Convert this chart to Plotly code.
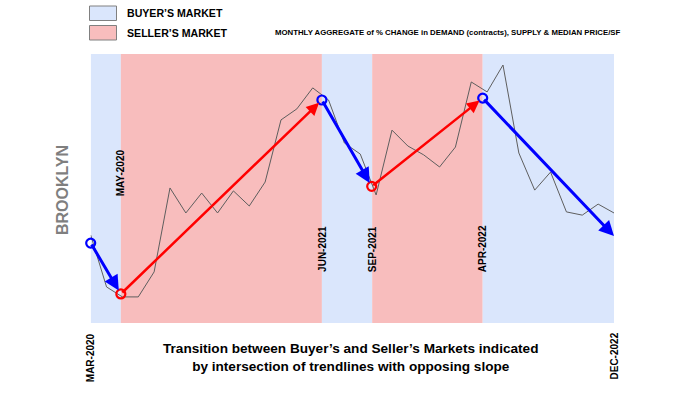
import plotly.graph_objects as go

W, H = 700, 394

# ---- data ----
months = ["MAR-2020", "APR-2020", "MAY-2020", "JUN-2020", "JUL-2020", "AUG-2020", "SEP-2020",
          "OCT-2020", "NOV-2020", "DEC-2020", "JAN-2021", "FEB-2021", "MAR-2021", "APR-2021",
          "MAY-2021", "JUN-2021", "JUL-2021", "AUG-2021", "SEP-2021", "OCT-2021", "NOV-2021",
          "DEC-2021", "JAN-2022", "FEB-2022", "MAR-2022", "APR-2022", "MAY-2022", "JUN-2022",
          "JUL-2022", "AUG-2022", "SEP-2022", "OCT-2022", "NOV-2022", "DEC-2022"]
aggregate = [32.7, 13.4, 9.7, 9.7, 19.0, 50.2, 40.9, 48.3, 40.9, 49.1, 43.5, 52.4, 75.5, 79.6,
             87.4, 82.9, 66.9, 62.8, 47.6, 71.7, 65.8, 62.5, 58.0, 65.4, 89.6, 85.9, 95.9, 63.2,
             49.4, 56.1, 41.3, 40.1, 44.2, 40.9]
# transitions (fractional month index) and trendline turning points
transition_x = [1.9, 14.58, 17.75, 24.72]
transition_labels = ["MAY-2020", "JUN-2021", "SEP-2021", "APR-2022"]
market = ["BUYER", "SELLER", "BUYER", "SELLER", "BUYER"]
trend_x = [0.0, 1.9, 14.58, 17.72, 24.72, 33.0]
trend_y = [29.7, 10.8, 82.9, 50.8, 83.6, 32.3]
end_labels = ["MAR-2020", "DEC-2022"]

# ---- style ----
BLUE_BG = "#dae6fc"
RED_BG = "#f8bdbd"
FONT = "Liberation Sans, Arial, sans-serif"

px_l, px_r, px_t, px_b = 90.7, 614.0, 54.0, 323.0
xdom = [px_l / W, px_r / W]
ydom = [(H - px_b) / H, (H - px_t) / H]
Y0, Y1 = 0.0, 100.0


def py(ypx):
    return (H - ypx) / H


fig = go.Figure()

# background bands
edges = [0.0] + transition_x + [len(months) - 1]
for i, m in enumerate(market):
    fig.add_shape(type="rect", xref="x", yref="y", x0=edges[i], x1=edges[i + 1], y0=Y0, y1=Y1,
                  fillcolor=BLUE_BG if m == "BUYER" else RED_BG, line_width=0, layer="below")

# aggregate line
fig.add_trace(go.Scatter(x=list(range(len(months))), y=aggregate, mode="lines",
                         line=dict(color="#5e5e5e", width=1), hoverinfo="skip", showlegend=False))

# trend arrows
for i in range(len(trend_x) - 1):
    col = "#0000ff" if market[i] == "BUYER" else "#ff0000"
    last = i == len(trend_x) - 2
    fig.add_annotation(x=trend_x[i + 1], y=trend_y[i + 1], ax=trend_x[i], ay=trend_y[i],
                       xref="x", yref="y", axref="x", ayref="y", text="", showarrow=True,
                       arrowhead=2, arrowsize=1.0, arrowwidth=3 if col == "#0000ff" else 2.5,
                       arrowcolor=col, standoff=0 if last else 4)

# circles at turning points
circ_cols = ["#0000ff", "#ff0000", "#0000ff", "#ff0000", "#0000ff"]
fig.add_trace(go.Scatter(x=trend_x[:5], y=trend_y[:5], mode="markers", cliponaxis=False,
                         marker=dict(symbol="circle-open", size=9, color=circ_cols,
                                     line=dict(width=2.2, color=circ_cols)),
                         hoverinfo="skip", showlegend=False))

# transition labels
label_bottom = [197, 273, 273, 273]
for x, lab, yb in zip(transition_x, transition_labels, label_bottom):
    fig.add_annotation(x=x, y=py(yb), xref="x", yref="paper", text="<b>" + lab + "</b>",
                       textangle=-90, showarrow=False, xanchor="center", yanchor="bottom",
                       borderpad=0, font=dict(family=FONT, size=10, color="#000"))

# end labels
for x, lab in zip([0, len(months) - 1], end_labels):
    fig.add_annotation(x=x, y=py(332), xref="x", yref="paper", text="<b>" + lab + "</b>",
                       textangle=-90, showarrow=False, xanchor="center", yanchor="top",
                       borderpad=0, font=dict(family=FONT, size=10, color="#000"))

# BROOKLYN
fig.add_annotation(x=62 / W, y=py(190), xref="paper", yref="paper", text="<b>BROOKLYN</b>",
                   textangle=-90, showarrow=False, xanchor="center", yanchor="middle",
                   font=dict(family=FONT, size=16, color="#7f7f7f"))

# legend boxes
for (y0, y1), col, lab in [((6, 20.5), BLUE_BG, "BUYER’S MARKET"), ((25.5, 40), RED_BG, "SELLER’S MARKET")]:
    fig.add_shape(type="rect", xref="paper", yref="paper", x0=89.5 / W, x1=116.5 / W,
                  y0=py(y1), y1=py(y0), fillcolor=col, line=dict(color="#808080", width=1))
    fig.add_annotation(x=125 / W, y=py((y0 + y1) / 2), xref="paper", yref="paper",
                       text="<b>" + lab + "</b>", showarrow=False, xanchor="left", yanchor="middle",
                       font=dict(family=FONT, size=10.6, color="#000"))

fig.add_annotation(x=273 / W, y=py(33), xref="paper", yref="paper",
                   text="<b>MONTHLY AGGREGATE of % CHANGE in DEMAND (contracts), SUPPLY &amp; MEDIAN PRICE/SF</b>",
                   showarrow=False, xanchor="left", yanchor="middle",
                   font=dict(family=FONT, size=7.8, color="#000"))

# caption
fig.add_annotation(x=350.5 / W, y=py(357), xref="paper", yref="paper",
                   text="<b>Transition between Buyer’s and Seller’s Markets indicated<br>"
                        "by intersection of trendlines with opposing slope</b>",
                   showarrow=False, xanchor="center", yanchor="middle", align="center",
                   font=dict(family=FONT, size=13.6, color="#000"))

fig.update_xaxes(domain=xdom, range=[0, len(months) - 1], visible=False, fixedrange=True)
fig.update_yaxes(domain=ydom, range=[Y0, Y1], visible=False, fixedrange=True)
fig.update_layout(width=W, height=H, margin=dict(l=0, r=0, t=0, b=0),
                  paper_bgcolor="white", plot_bgcolor="white", showlegend=False)

fig.write_html("out.html")
